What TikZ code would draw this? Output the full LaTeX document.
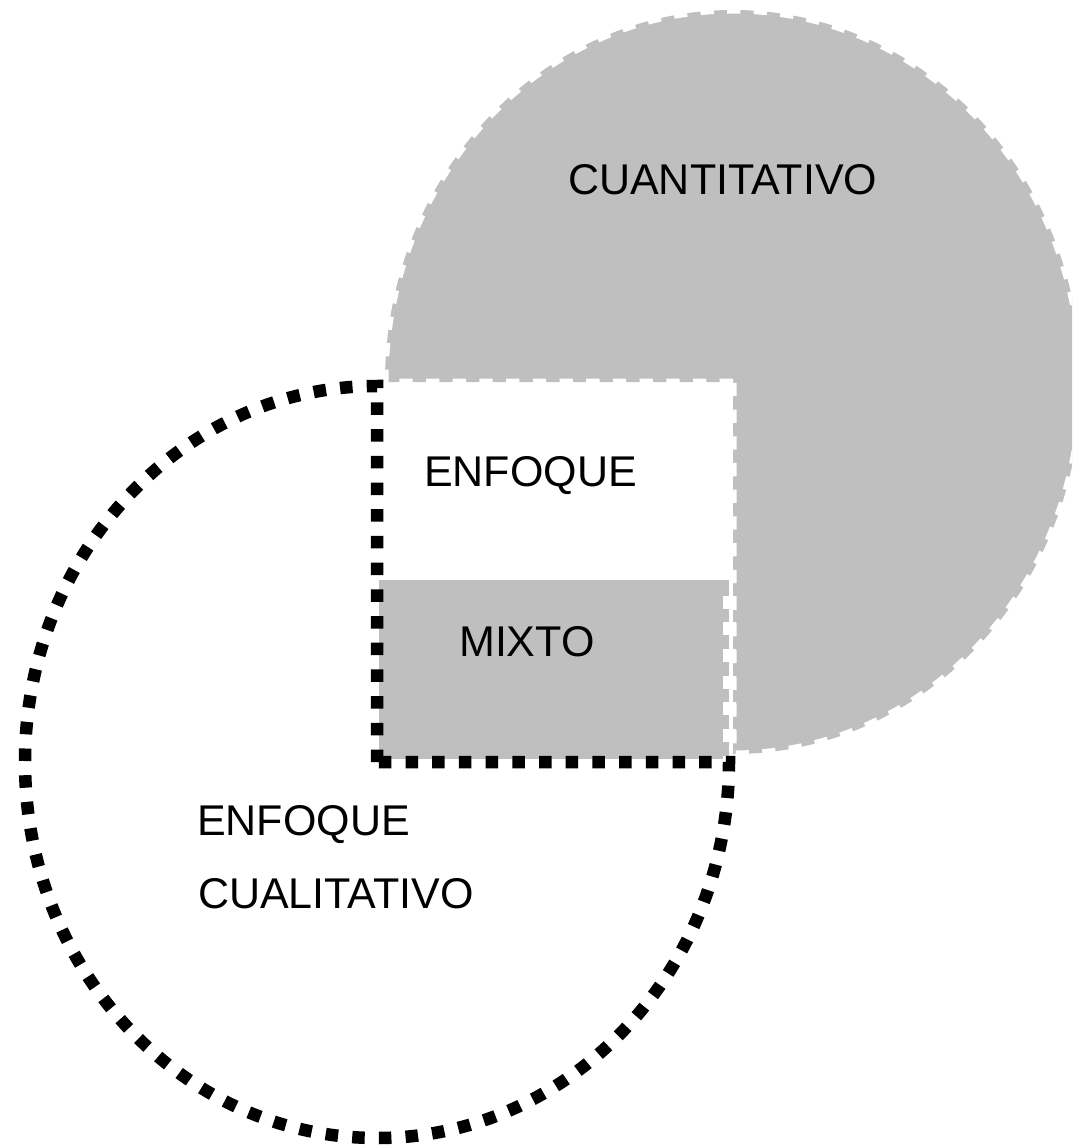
\documentclass[tikz,border=0pt]{standalone}
\usepackage{fontspec}
\setmainfont{Liberation Sans}
\definecolor{pieGray}{RGB}{191,191,191}
\begin{document}
\begin{tikzpicture}[x=1pt,y=-1pt,
  lbl/.style={anchor=base west, inner sep=0pt, font=\fontsize{43}{52}\selectfont},
  whitedash/.style={draw=white, line width=7pt, dash pattern=on 13.3pt off 13.4pt},
  whitesq/.style={draw=white, line width=13pt, dash pattern=on 13pt off 13.7pt},
  blackdot/.style={draw=black, line width=12.5pt, dash pattern=on 12.5pt off 14.2pt}]
\useasboundingbox (0,0) rectangle (1072,1145);
\clip (0,0) rectangle (1072,1145);
\coordinate (qc) at (733,382);
\coordinate (lc) at (377,762);
% quantitative three-quarter disc
\fill[pieGray] (qc) -- ++(-348,0) arc[start angle=180,end angle=450,x radius=348,y radius=372] -- cycle;
% mixed-approach box
\fill[pieGray] (379,580) rectangle (729,759);
\draw[whitedash] (qc) -- ++(-348,0) arc[start angle=180,end angle=450,x radius=348,y radius=372] -- cycle;
\draw[whitesq] (729.5,595.6) -- (729.5,760);
\draw[white, line width=0.8pt] (729,580) -- (729,757);
% qualitative three-quarter ellipse
\draw[blackdot] (lc) -- ++(0,-376) arc[start angle=270,end angle=0,x radius=352,y radius=376] -- cycle;
% labels
\node[lbl] (cuanti) at (568,194) {CUANTITATIVO};
\node[lbl] (enfq1) at (424,486) {ENFOQUE};
\node[lbl] (mixto) at (459,656) {MIXTO};
\node[lbl] (enfq2) at (197,835) {ENFOQUE};
\node[lbl] (cuali) at (198,908) {CUALITATIVO};
\end{tikzpicture}
\end{document}
